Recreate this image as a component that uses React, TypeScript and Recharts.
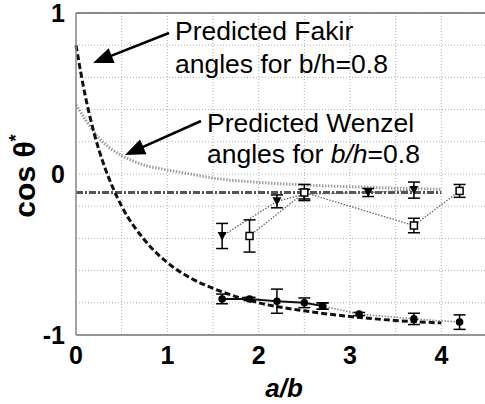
import { CartesianGrid, ErrorBar, Line, LineChart, ReferenceLine, XAxis, YAxis } from 'recharts'

// predicted curves
const fakirX = [0, 0.1, 0.2, 0.3, 0.4, 0.5, 0.75, 1, 1.25, 1.5, 2, 2.5, 3, 3.5, 4]
const fakirY = [0.8, 0.49, 0.25, 0.065, -0.08, -0.2, -0.41, -0.55, -0.645, -0.71, -0.8, -0.85, -0.885, -0.91, -0.925]

const wenzelX = [0, 0.1, 0.2, 0.3, 0.4, 0.5, 0.75, 1, 1.25, 1.5, 2, 2.5, 3, 3.5, 4]
const wenzelY = [0.43, 0.34, 0.26, 0.195, 0.15, 0.115, 0.055, 0.025, 0.0, -0.025, -0.052, -0.068, -0.079, -0.088, -0.095]

const flatX = [0, 4]
const flatY = [-0.115, -0.115]

// measured series
const triX = [1.6, 2.2, 2.5, 3.2, 3.7]
const triY = [-0.385, -0.17, -0.125, -0.115, -0.1]
const triErr = [0.078, 0.04, 0.03, 0.025, 0.05]

const sqX = [1.9, 2.5, 3.7, 4.2]
const sqY = [-0.385, -0.115, -0.32, -0.105]
const sqErr = [0.1, 0.05, 0.045, 0.04]

const circX = [1.6, 1.9, 2.2, 2.5, 2.7]
const circY = [-0.776, -0.776, -0.79, -0.8, -0.82]
const circErr = [0.03, 0.01, 0.075, 0.03, 0.02]

const circ2X = [2.7, 3.1, 3.7, 4.2]
const circ2Y = [-0.82, -0.87, -0.9, -0.92]
const circ2Err = [0.02, 0.01, 0.035, 0.045]

const xTicks = [0, 0.5, 1, 1.5, 2, 2.5, 3, 3.5, 4, 4.5]
const yTicks = [-1, -0.8, -0.6, -0.4, -0.2, 0, 0.2, 0.4, 0.6, 0.8, 1]
const yLabels = [-1, 0, 1]

const zip = (xs: number[], ys: number[], errs?: number[]) =>
  xs.map((x, i) => ({ x, y: ys[i], err: errs ? errs[i] : 0 }))

const font = "Arial, 'Liberation Sans', sans-serif"

const TriDot = (p: any) => {
  const { cx, cy } = p
  if (cx == null || cy == null) return null
  return <path d={`M${cx - 4.5},${cy - 4} L${cx + 4.5},${cy - 4} L${cx},${cy + 4.5} Z`} fill="#000" />
}

const SqDot = (p: any) => {
  const { cx, cy } = p
  if (cx == null || cy == null) return null
  return <rect x={cx - 3.5} y={cy - 3.5} width={7} height={7} fill="#fff" stroke="#000" strokeWidth={1.5} />
}

const CircDot = (p: any) => {
  const { cx, cy } = p
  if (cx == null || cy == null) return null
  return <circle cx={cx} cy={cy} r={3.8} fill="#000" />
}

// annotation arrow: line plus filled head
function Arrow({ x1, y1, x2, y2 }: { x1: number; y1: number; x2: number; y2: number }) {
  const dx = x2 - x1
  const dy = y2 - y1
  const len = Math.hypot(dx, dy)
  const ux = dx / len
  const uy = dy / len
  const hl = 20
  const hw = 8
  const bx = x2 - ux * hl
  const by = y2 - uy * hl
  return (
    <g>
      <line x1={x1} y1={y1} x2={bx + ux * 2} y2={by + uy * 2} stroke="#000" strokeWidth={2.5} />
      <path d={`M${x2},${y2} L${bx - uy * hw},${by + ux * hw} L${bx + uy * hw},${by - ux * hw} Z`} fill="#000" />
    </g>
  )
}

export default function App() {
  return (
    <div style={{ position: 'absolute', left: 0, top: 0, width: 485, height: 404, overflow: 'hidden', background: '#fff' }}>
      <LineChart width={490} height={404} margin={{ top: 13, right: 3, bottom: 29, left: 16 }}>
        <CartesianGrid stroke="#b0b0b0" strokeDasharray="1 2" />
        <XAxis
          type="number"
          dataKey="x"
          domain={[0, 4.5]}
          ticks={xTicks}
          interval={0}
          height={40}
          tickLine={false}
          tickMargin={5}
          axisLine={{ stroke: '#777', strokeWidth: 1.5 }}
          tickFormatter={(v: number) => (Number.isInteger(v) ? String(v) : '')}
          tick={{ fill: '#000', fontSize: 25, fontWeight: 'bold', fontFamily: font }}
        />
        <YAxis
          type="number"
          dataKey="y"
          domain={[-1, 1]}
          ticks={yTicks}
          interval={0}
          width={60}
          tickLine={false}
          tickMargin={5}
          axisLine={{ stroke: '#888', strokeWidth: 1.5 }}
          tickFormatter={(v: number) => (yLabels.includes(v) ? String(v) : '')}
          tick={{ fill: '#000', fontSize: 25, fontWeight: 'bold', fontFamily: font }}
        />
        <ReferenceLine y={1} stroke="#666" strokeWidth={1.5} />

        <Line data={zip(wenzelX, wenzelY)} dataKey="y" type="monotone" stroke="#a0a0a0" strokeWidth={3}
          strokeDasharray="1.5 1.5" dot={false} isAnimationActive={false} />
        <Line data={zip(flatX, flatY)} dataKey="y" type="linear" stroke="#555" strokeWidth={3}
          strokeDasharray="7 2 2 2" dot={false} isAnimationActive={false} />
        <Line data={zip(fakirX, fakirY)} dataKey="y" type="monotone" stroke="#111" strokeWidth={3}
          strokeDasharray="6 3" dot={false} isAnimationActive={false} />

        <Line data={zip(triX, triY, triErr)} dataKey="y" type="linear" stroke="#666" strokeWidth={1.3}
          strokeDasharray="1.5 1.5" dot={<TriDot />} isAnimationActive={false}>
          <ErrorBar dataKey="err" direction="y" width={6} stroke="#000" strokeWidth={1.5} isAnimationActive={false} />
        </Line>
        <Line data={zip(sqX, sqY, sqErr)} dataKey="y" type="linear" stroke="#666" strokeWidth={1.3}
          strokeDasharray="1.5 1.5" dot={<SqDot />} isAnimationActive={false}>
          <ErrorBar dataKey="err" direction="y" width={6} stroke="#000" strokeWidth={1.5} isAnimationActive={false} />
        </Line>
        <Line data={zip(circ2X, circ2Y, circ2Err)} dataKey="y" type="linear" stroke="#888" strokeWidth={1.5}
          strokeDasharray="1.5 1.5" dot={<CircDot />} isAnimationActive={false}>
          <ErrorBar dataKey="err" direction="y" width={6} stroke="#000" strokeWidth={1.5} isAnimationActive={false} />
        </Line>
        <Line data={zip(circX, circY, circErr)} dataKey="y" type="linear" stroke="#111" strokeWidth={2}
          dot={<CircDot />} isAnimationActive={false}>
          <ErrorBar dataKey="err" direction="y" width={6} stroke="#000" strokeWidth={1.5} isAnimationActive={false} />
        </Line>
      </LineChart>

      <svg width={485} height={404} style={{ position: 'absolute', left: 0, top: 0, pointerEvents: 'none' }}>
        <Arrow x1={169} y1={33} x2={93} y2={63} />
        <Arrow x1={201} y1={121} x2={125} y2={155} />

        <g fontFamily={font} fontSize={26.5} fill="#000">
          <text x={175} y={40}>Predicted Fakir</text>
          <text x={175} y={73}>angles for b/h=0.8</text>
          <text x={207} y={132}>Predicted Wenzel</text>
          <text x={207} y={163}>
            angles for <tspan fontStyle="italic">b/h</tspan>=0.8
          </text>
        </g>

        <text transform="translate(35,176) rotate(-90)" textAnchor="middle" fontFamily={font} fontSize={30}
          fontWeight="bold" fill="#000">
          cos θ<tspan dy={-13} fontSize={18}>*</tspan>
        </text>
        <text x={284} y={397} textAnchor="middle" fontFamily={font} fontSize={26} fontWeight="bold"
          fontStyle="italic" fill="#000">
          a/b
        </text>
      </svg>
    </div>
  )
}
